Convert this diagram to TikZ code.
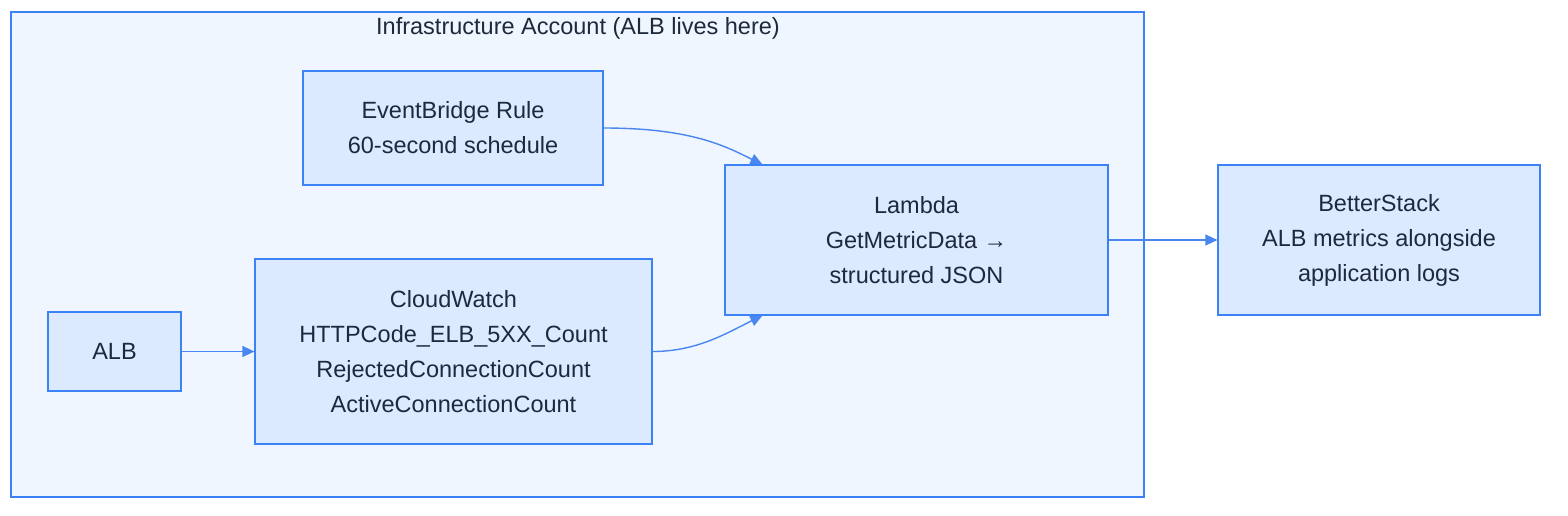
\documentclass[tikz,border=0pt]{standalone}
\usepackage{fontspec}
\setmainfont{Liberation Sans}
\usetikzlibrary{arrows.meta,calc}
\definecolor{clfill}{HTML}{EFF6FF}
\definecolor{bxfill}{HTML}{DBEAFE}
\definecolor{stroke}{HTML}{3B82F6}
\definecolor{edge}{HTML}{4A86F0}
\definecolor{txt}{HTML}{1E293B}
\begin{document}
\begin{tikzpicture}[x=1pt,y=-1pt,
  font=\fontsize{23.5}{35}\selectfont,
  box/.style={draw=stroke,fill=bxfill,line width=1.2pt,text=txt,align=center,inner sep=0pt},
  conn/.style={draw=edge,line width=1.4pt,-{Triangle[length=12pt,width=11pt]}}]
\useasboundingbox (0,0) rectangle (1568,516);
\fill[white] (0,0) rectangle (1568,516);
\node[draw=stroke,fill=clfill,line width=1.2pt,minimum width=1133pt,minimum height=485pt,inner sep=0pt] (cl) at (577.5,254.5) {};
\node[text=txt] (title) at (578,28) {Infrastructure Account (ALB lives here)};
\node[box,minimum width=300pt,minimum height=114pt] (eb) at (453,128) {EventBridge Rule\\60-second schedule};
\node[box,minimum width=383pt,minimum height=150pt] (lam) at (916.5,240) {Lambda\\GetMetricData →\\structured JSON};
\node[box,minimum width=397pt,minimum height=185pt] (cw) at (453.5,351.5) {CloudWatch\\HTTPCode\_ELB\_5XX\_Count\\RejectedConnectionCount\\ActiveConnectionCount};
\node[box,minimum width=133pt,minimum height=79pt] (alb) at (114.5,351.5) {ALB};
\node[box,minimum width=322pt,minimum height=150pt] (bs) at (1379,240) {BetterStack\\ALB metrics alongside\\application logs};
\coordinate (lt) at ($(lam.north west)+(38,0)$);
\coordinate (lb) at ($(lam.south west)+(38,0)$);
\draw[conn] (eb.east) .. controls +(90,0) and +(-35,-17) .. (lt);
\draw[conn] (cw.east) .. controls +(45,0) and +(-35,17) .. (lb);
\draw[conn] (lam.east) -- (bs.west);
\draw[conn] (alb.east) -- (cw.west);
\end{tikzpicture}
\end{document}
